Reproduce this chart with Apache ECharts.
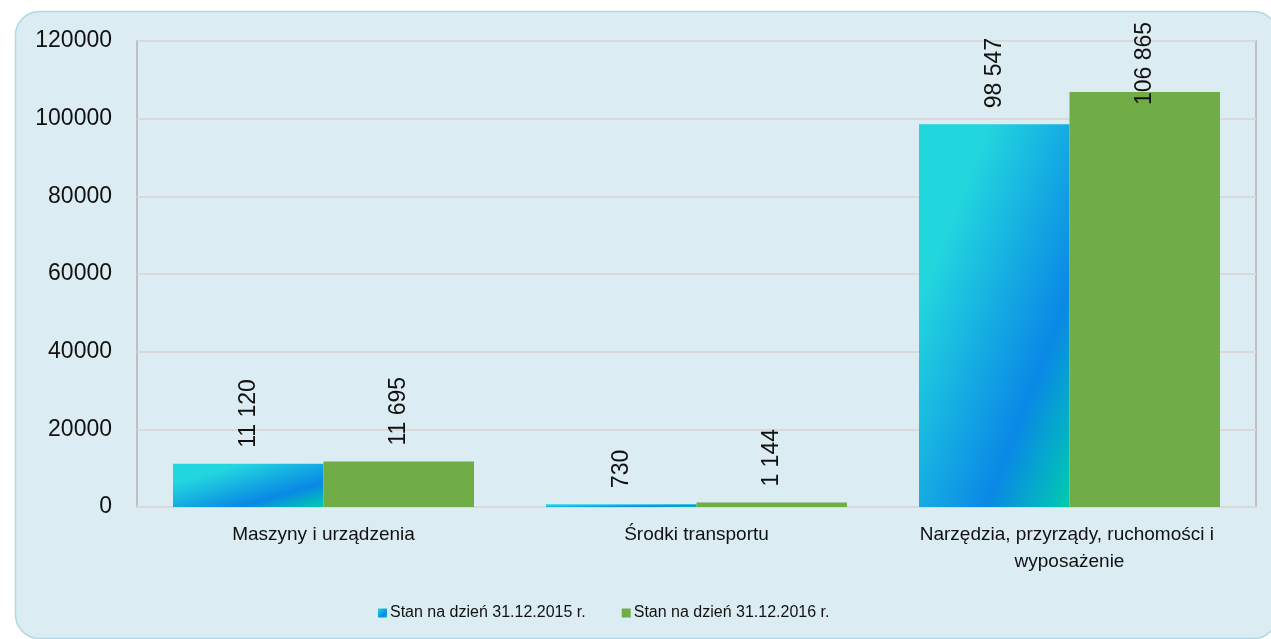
<!DOCTYPE html>
<html>
<head>
<meta charset="utf-8">
<script src="https://cdn.jsdelivr.net/npm/echarts@6/dist/echarts.min.js"></script>
<style>
  html, body { margin: 0; padding: 0; background: #fff; }
  #chart { width: 1271px; height: 639px; }
</style>
</head>
<body>
<div id="chart"></div>
<script>
// dane
const categories = ['Maszyny i urządzenia', 'Środki transportu', 'Narzędzia, przyrządy, ruchomości i wyposażenie'];
const seriesNames = ['Stan na dzień 31.12.2015 r.', 'Stan na dzień 31.12.2016 r.'];
const values2015 = [11120, 730, 98547];
const values2016 = [11695, 1144, 106865];

const yMax = 120000;
const plotH = 466; // wysokość obszaru wykresu w px
const barW = 150;

const fmt = v => String(v).replace(/\B(?=(\d{3})+(?!\d))/g, ' ');

// gradient jak w Excelu: kąt 45° względem prostokąta słupka
function excelGradient(v) {
  const h = Math.max(v / yMax * plotH, 1);
  const s = h * h + barW * barW;
  return new echarts.graphic.LinearGradient(0, 0, 2 * h * h / s, 2 * barW * barW / s, [
    { offset: 0, color: '#22D6DE' },
    { offset: 0.23, color: '#22D6DE' },
    { offset: 0.72, color: '#0A88E6' },
    { offset: 1, color: '#00CCAE' }
  ]);
}

const labelBase = {
  show: true,
  position: 'top',
  distance: 16,
  rotate: 90,
  align: 'left',
  verticalAlign: 'middle',
  fontSize: 23,
  color: '#111',
  fontFamily: 'Liberation Sans',
  formatter: p => fmt(p.value)
};

const data2015 = values2015.map(v => ({ value: v, itemStyle: { color: excelGradient(v) } }));
const data2016 = values2016.map(v => {
  // etykieta przesunięta w dół, żeby zmieściła się w obszarze wykresu
  if (v / yMax * plotH + 16 + 92 > plotH) {
    return { value: v, label: { position: ['50%', 13] } };
  }
  return { value: v };
});

const chart = echarts.init(document.getElementById('chart'));
chart.setOption({
  animation: false,
  textStyle: { fontFamily: 'Liberation Sans' },
  graphic: [{
    type: 'rect',
    z: -10,
    silent: true,
    shape: { x: 15.5, y: 11.5, width: 1262, height: 627, r: 24 },
    style: { fill: '#DBEDF3', stroke: '#AED9E5', lineWidth: 1.5 }
  }],
  grid: {
    left: 137, right: 15, top: 41, bottom: 132,
    show: true, borderColor: '#BFBFBF', borderWidth: 2, backgroundColor: 'transparent'
  },
  legend: {
    left: 373, top: 600,
    itemWidth: 9, itemHeight: 9, itemGap: 36,
    icon: 'rect',
    textStyle: { fontSize: 16, color: '#111', fontFamily: 'Liberation Sans', padding: [0, 0, 0, -2] },
    data: seriesNames
  },
  xAxis: {
    type: 'category',
    data: categories,
    axisLine: { show: true, lineStyle: { color: '#D9D9D9', width: 2 } },
    axisTick: { show: false },
    axisLabel: {
      fontSize: 19, color: '#111', margin: 14, lineHeight: 27,
      width: 335, overflow: 'break', interval: 0
    }
  },
  yAxis: {
    type: 'value',
    min: 0, max: yMax, interval: 20000,
    axisLine: { show: false },
    axisTick: { show: false },
    axisLabel: { fontSize: 23, color: '#111', margin: 25, formatter: v => String(v) },
    splitLine: { lineStyle: { color: '#D9D9D9', width: 2 } }
  },
  series: [
    {
      name: seriesNames[0], type: 'bar', data: data2015,
      barGap: '0%', barCategoryGap: '19.3%',
      itemStyle: {
        color: new echarts.graphic.LinearGradient(0, 0, 1, 1, [
          { offset: 0, color: '#22D6DE' }, { offset: 0.7, color: '#0A88E6' }, { offset: 1, color: '#00CCAE' }
        ])
      },
      label: labelBase
    },
    {
      name: seriesNames[1], type: 'bar', data: data2016,
      barGap: '0%', barCategoryGap: '19.3%',
      itemStyle: { color: '#70AD47' },
      label: labelBase
    }
  ]
});
</script>
</body>
</html>
